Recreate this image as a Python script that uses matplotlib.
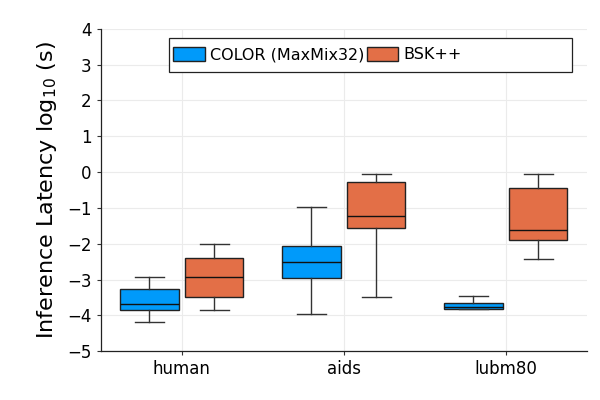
import numpy as np
import matplotlib
matplotlib.use("Agg")
import matplotlib.pyplot as plt
from matplotlib.patches import Rectangle, Patch

categories = ["human", "aids", "lubm80"]
series = ["COLOR (MaxMix32)", "BSK++"]
colors = ["#009AFA", "#E36F47"]

# log10 latency summaries per category: (whisker low, q1, median, q3, whisker high)
color_stats = [
    (-4.18, -3.84, -3.68, -3.26, -2.94),
    (-3.96, -2.95, -2.52, -2.05, -0.97),
    (-3.83, -3.81, -3.76, -3.66, -3.46),
]
bsk_stats = [
    (-3.85, -3.50, -2.93, -2.39, -2.01),
    (-3.48, -1.56, -1.22, -0.28, -0.04),
    (-2.42, -1.89, -1.62, -0.44, -0.05),
]

fig, ax = plt.subplots(figsize=(6, 4), dpi=100)
fig.subplots_adjust(left=0.168, right=0.978, top=0.928, bottom=0.122)

x = np.arange(1, len(categories) + 1)
offsets = [-0.2, 0.2]
for stats, off, c in zip([color_stats, bsk_stats], offsets, colors):
    bx = [dict(whislo=s[0], q1=s[1], med=s[2], q3=s[3], whishi=s[4], fliers=[])
          for s in stats]
    ax.bxp(bx, positions=x + off, widths=0.36, patch_artist=True,
           showfliers=False, manage_ticks=False,
           boxprops=dict(facecolor=c, edgecolor="#222222", linewidth=1.0),
           medianprops=dict(color="#111111", linewidth=1.0),
           whiskerprops=dict(color="#333333", linewidth=1.0),
           capprops=dict(color="#333333", linewidth=1.0),
           capwidths=0.18)

ax.set_xlim(0.5, 3.5)
ax.set_ylim(-5, 4)
ax.set_xticks(x)
ax.set_xticklabels(categories)
ax.set_yticks(np.arange(-5, 5))
ax.tick_params(labelsize=12, length=3, width=0.8, color="#333333")
ax.grid(True, color="#EBEBEB", linewidth=0.8)
ax.set_axisbelow(True)
for side in ["top", "right"]:
    ax.spines[side].set_visible(False)
for side in ["left", "bottom"]:
    ax.spines[side].set_linewidth(0.9)
    ax.spines[side].set_color("#222222")

ax.set_ylabel("Inference Latency log$_{10}$ (s)", fontsize=16, labelpad=6)

# legend: frame drawn separately, entries left-aligned like Plots.jl
handles = [Patch(facecolor=c, edgecolor="#222222", linewidth=1.0) for c in colors]
ax.add_patch(Rectangle((0.14, 0.866), 0.829, 0.106, transform=ax.transAxes,
                       facecolor="white", edgecolor="#222222", linewidth=0.9,
                       zorder=4))
leg = ax.legend(handles, series, ncol=2, loc="center left",
                bbox_to_anchor=(0.142, 0.919), frameon=False, fontsize=11.5,
                handlelength=2.0, handleheight=0.9, handletextpad=0.3,
                columnspacing=0.15, borderaxespad=0.0, borderpad=0.2)
leg.set_zorder(5)

fig.savefig("out.png", dpi=100)
